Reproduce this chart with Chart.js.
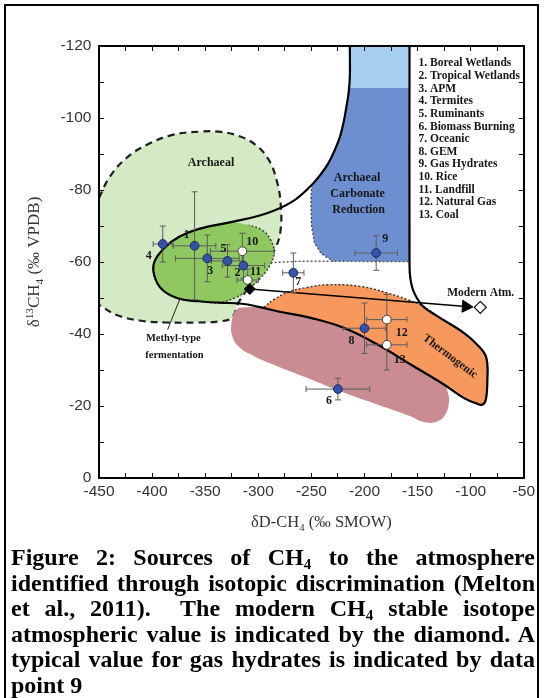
<!DOCTYPE html>
<html><head><meta charset="utf-8">
<script src="https://cdn.jsdelivr.net/npm/chart.js@4.4.0/dist/chart.umd.min.js"></script>
<style>
html,body{margin:0;padding:0;background:#fff;}
#wrap{position:relative;width:544px;height:698px;overflow:hidden;background:#fff;}
#frame{position:absolute;left:4px;top:4px;width:535px;height:760px;border:2px solid #000;box-sizing:border-box;pointer-events:none;}
#c{position:absolute;left:0;top:0;}
#cap{position:absolute;left:11px;top:545px;width:524px;font:bold 24px "Liberation Serif","Times New Roman",serif;color:#000;}
#cap .ln{height:25.6px;line-height:25.6px;text-align:justify;text-align-last:justify;}
#cap .last{text-align:left;text-align-last:left;}
#cap sub{font-size:15px;line-height:0;vertical-align:-4px;}
</style></head>
<body>
<div id="wrap">
<canvas id="c" width="544" height="545"></canvas>
<div id="cap">
<div class="ln">Figure 2: Sources of CH<sub>4</sub> to the atmosphere</div>
<div class="ln">identified through isotopic discrimination (Melton</div>
<div class="ln">et al., 2011).&nbsp; The modern CH<sub>4</sub> stable isotope</div>
<div class="ln">atmospheric value is indicated by the diamond. A</div>
<div class="ln">typical value for gas hydrates is indicated by data</div>
<div class="ln last">point 9</div>
</div>
<div id="frame"></div>
</div>
<script>
// ---------------- data ----------------
const sourceLabels = ['1. Boreal Wetlands','2. Tropical Wetlands','3. APM','4. Termites','5. Ruminants','6. Biomass Burning','7. Oceanic','8. GEM','9. Gas Hydrates','10. Rice','11. Landfill','12. Natural Gas','13. Coal'];
const sourceIds = ['1','2','3','4','5','6','7','8','9','10','11','12','13'];
const dD      = [-360, -314, -348, -390, -329, -225, -267, -200, -189, -315, -310, -179, -179];
const d13C    = [-64.5, -59, -61, -65, -60.3, -24.7, -57, -41.6, -62.5, -63, -55, -44, -37];
const dDErr   = [20, 20, 30, 9, 15, 30, 10, 20, 20, 30, 10, 19, 19];
const d13CErr = [15, 3.5, 6.5, 5, 4.5, 3, 5.5, 7, 4.8, 5, 3, 7, 7];
const openMarker = [false,false,false,false,false,false,false,false,false,true,true,true,true];
const sourceDiamond = [-308, -52.5];
const modernAtm = [-91, -47.4];
const arrowEnd = [-104.5, -47.65];

const xTicks = [-450,-400,-350,-300,-250,-200,-150,-100,-50];
const yTicks = [-120,-100,-80,-60,-40,-20,0];

// region outlines (dD, d13C)
const hydrateTop = [[-213.8,-120],[-157.6,-120],[-157.6,-108.3],[-213.8,-108.3]];
const carbonateArea = [[-213.8,-120],[-213.8,-111.5],[-214.9,-107.2],[-217,-103.2],[-219.6,-98.9],[-223.1,-94.8],[-228,-91.1],[-234.1,-87.4],[-241.6,-84.2],[-249.7,-81.4],[-250.5,-77.25],[-250,-70.3],[-247.2,-65.3],[-240.6,-62.26],[-229.4,-60.2],[-157.6,-60.1],[-157.6,-120]];
const archaealArea = [[-450,-77.8],[-440,-83.6],[-424.1,-88.9],[-405.4,-92.5],[-381,-95.3],[-355.8,-96.2],[-337,-96.2],[-318.3,-95],[-302.4,-92.5],[-290.2,-88.4],[-282.8,-82.8],[-279,-76.4],[-279,-68.9],[-283.7,-63.9],[-292.1,-60],[-318.3,-48.9],[-324.9,-44.5],[-337,-43.5],[-355.8,-43.2],[-386.6,-43.2],[-411.9,-43.75],[-433.4,-45.3],[-450,-48.1]];
const biomassArea = [[-318.3,-47.3],[-294.9,-47.4],[-280.9,-46.25],[-249.7,-44.4],[-218.5,-41.6],[-187.3,-37],[-156.1,-31.45],[-124.9,-25.9],[-121.8,-23.96],[-120.4,-21.2],[-124.6,-17.3],[-133.9,-15.5],[-145.2,-15.6],[-156.1,-17.1],[-187.3,-20.35],[-218.5,-23.6],[-249.7,-27.3],[-280.9,-30.9],[-304.3,-33.9],[-318.3,-36.45],[-324.9,-39.8],[-324.9,-43.9],[-322.1,-46.4]];
const thermoArea = [[-294.9,-47.4],[-285.6,-49.5],[-271.5,-51.7],[-252.8,-53],[-234.1,-53.7],[-203.2,-53.2],[-177.9,-51.35],[-159.2,-49.5],[-145.2,-47.8],[-131.1,-44.9],[-106.2,-40.25],[-92.8,-36.7],[-85.3,-33.4],[-84.3,-27.3],[-85.8,-21.7],[-89,-20.35],[-93.7,-20.6],[-106.2,-22.2],[-124.9,-25.9],[-156.1,-31.45],[-187.3,-37],[-218.5,-41.6],[-249.7,-44.4],[-280.9,-46.25]];
const methylArea = [[-324.6,-71.15],[-355.8,-69.2],[-374.5,-67],[-388.5,-63.9],[-397.9,-60],[-397.9,-56.2],[-390.4,-52.3],[-374.5,-49.8],[-355.8,-49.1],[-337,-48.7],[-320.2,-50.3],[-309,-52.5],[-298.7,-55.3],[-289.3,-58.9],[-285.1,-62.5],[-288.4,-66.15],[-296.5,-68.9],[-309,-70.3]];
const oceanicEdge = [[-288.4,-59.8],[-262.2,-60.2],[-229.4,-60.2],[-157.6,-60.1]];
const envelope = [[-213.8,-120],[-213.8,-111.5],[-214.9,-107.2],[-217,-103.2],[-219.6,-98.9],[-223.1,-94.8],[-228,-91.1],[-234.1,-87.4],[-241.6,-84.2],[-249.7,-81.4],[-268.4,-76.7],[-293.3,-73.4],[-324.6,-71.15],[-355.8,-69.2],[-374.5,-67],[-388.5,-63.9],[-397.9,-60],[-397.9,-56.2],[-390.4,-52.3],[-374.5,-49.8],[-355.8,-49.1],[-337,-48.7],[-315.5,-48.4],[-299.6,-47.55],[-280.9,-46.25],[-249.7,-44.4],[-218.5,-41.6],[-187.3,-37],[-156.1,-31.45],[-124.9,-25.9],[-106.2,-22.2],[-93.7,-20.6],[-89,-20.35],[-85.8,-21.7],[-84.3,-27.3],[-85.3,-33.4],[-92.8,-36.7],[-106.2,-40.25],[-131.1,-44.9],[-145.2,-47.8],[-153.6,-51.7],[-156.9,-55.6],[-157.6,-60],[-157.6,-120]];
const methylPointer = [[-385.4,-41.2],[-373.5,-50]];

// ---------------- styling / annotation config ----------------
const regionNotes = [
  {text:'Archaeal', dD:-344.5, d13C:-87.5, size:12},
  {text:'Archaeal', dD:-207, d13C:-83.3, size:12},
  {text:'Carbonate', dD:-206.5, d13C:-78.9, size:12},
  {text:'Reduction', dD:-205.5, d13C:-74.5, size:12},
  {text:'Methyl-type', dD:-380, d13C:-38.7, size:10.5},
  {text:'fermentation', dD:-379, d13C:-34.2, size:10.5},
  {text:'Thermogenic', dD:-119.4, d13C:-33.75, size:11.5, rot:37},
  {text:'Modern Atm.', dD:-90.6, d13C:-51.35, size:11.5}
];
const idOffsets = [[-8,-11],[-6,7],[3,13],[-14,11.5],[-4,-12],[-9,12],[5,9],[-13,13],[9,-14],[10,-9],[8,-8],[15,13],[13,15.5]];

const pts = arr => arr.map(p => ({x:p[0], y:p[1]}));
function shape(data, bg, extra){ return Object.assign({type:'line', data:pts(data), showLine:true, pointRadius:0, fill:'shape', backgroundColor:bg, borderWidth:0, borderColor:'rgba(0,0,0,0)', tension:0.4}, extra||{}); }

const datasets = [
  shape(hydrateTop, '#a8cfee', {order:100, tension:0}),
  shape(carbonateArea, '#6d8fd0', {order:99, tension:0}),
  shape(hydrateTop, '#a8cfee', {order:98, tension:0}),
  shape(archaealArea, '#d3eac5', {order:90, borderWidth:2.2, borderColor:'#1e1e1e', borderDash:[7,5]}),
  shape(biomassArea, '#c98c90', {order:85}),
  shape(thermoArea, '#f7995d', {order:80, borderWidth:1.4, borderColor:'#333', borderDash:[2,2]}),
  shape(methylArea, '#8ec85e', {order:75, borderWidth:1.4, borderColor:'#333', borderDash:[2,2]}),
  {type:'line', data:pts(oceanicEdge), showLine:true, pointRadius:0, fill:false, borderWidth:1.4, borderColor:'#555', borderDash:[2,2], tension:0, order:72},
  {type:'line', data:pts(carbonateArea.slice(9,15)), showLine:true, pointRadius:0, fill:false, borderWidth:1.2, borderColor:'#444', borderDash:[2,2], tension:0, order:71},
  {type:'line', data:pts(envelope), showLine:true, pointRadius:0, fill:false, borderWidth:2.2, borderColor:'#000', tension:0.4, order:60},
  {type:'line', data:pts(methylPointer), showLine:true, pointRadius:0, fill:false, borderWidth:1, borderColor:'#222', tension:0, order:55},
  {type:'line', data:pts([sourceDiamond, arrowEnd]), showLine:true, fill:false, borderWidth:1.6, borderColor:'#000', tension:0, order:50,
    pointRadius:[0,7], pointStyle:'triangle', pointRotation:94, pointBackgroundColor:'#000', pointBorderColor:'#000', pointBorderWidth:1},
  {type:'line', id:'sources', data:dD.map((v,i)=>({x:v, y:d13C[i]})), showLine:false, fill:false, order:10,
    pointRadius:4.4, pointBorderWidth:1, pointStyle:'circle',
    pointBackgroundColor:openMarker.map(o=>o?'#ffffff':'#3452a8'),
    pointBorderColor:openMarker.map(o=>o?'#3a3a3a':'#1c2c66')},
  {type:'line', data:pts([sourceDiamond]), showLine:false, fill:false, order:5, pointStyle:'rectRot', pointRadius:5.5, pointBackgroundColor:'#000', pointBorderColor:'#000', pointBorderWidth:1},
  {type:'line', data:pts([modernAtm]), showLine:false, fill:false, order:4, pointStyle:'rectRot', pointRadius:6, pointBackgroundColor:'#fff', pointBorderColor:'#111', pointBorderWidth:1.3}
];

const errorBars = {
  id:'errorBars',
  beforeDatasetDraw(chart, args){
    const ds = chart.data.datasets[args.index];
    if (ds.id !== 'sources') return;
    const {ctx, scales:{x, y}} = chart;
    ctx.save();
    ctx.strokeStyle = '#5c5c5c'; ctx.lineWidth = 1;
    const seg = (a,b,c,d)=>{ctx.beginPath();ctx.moveTo(a,b);ctx.lineTo(c,d);ctx.stroke();};
    const cap = 3;
    dD.forEach((v,i)=>{
      const px = x.getPixelForValue(v), py = y.getPixelForValue(d13C[i]);
      const x0 = x.getPixelForValue(v-dDErr[i]), x1 = x.getPixelForValue(v+dDErr[i]);
      const y0 = y.getPixelForValue(d13C[i]-d13CErr[i]), y1 = y.getPixelForValue(d13C[i]+d13CErr[i]);
      seg(x0,py,x1,py); seg(x0,py-cap,x0,py+cap); seg(x1,py-cap,x1,py+cap);
      seg(px,y0,px,y1); seg(px-cap,y0,px+cap,y0); seg(px-cap,y1,px+cap,y1);
    });
    ctx.restore();
  }
};

function drawRich(ctx, parts, cx, cy, size, rot){
  ctx.save(); ctx.translate(cx, cy); ctx.rotate(rot);
  ctx.fillStyle = '#333'; ctx.textBaseline = 'alphabetic'; ctx.textAlign = 'left';
  const f = k => (k ? size*0.66 : size) + 'px "Liberation Serif","DejaVu Serif",serif';
  let total = 0; const ws = [];
  parts.forEach(([t,k])=>{ ctx.font = f(k); const w = ctx.measureText(t).width; ws.push(w); total += w; });
  let xx = -total/2; const base = size*0.33;
  parts.forEach(([t,k],i)=>{ ctx.font = f(k); const dy = k===1 ? -size*0.38 : (k===-1 ? size*0.22 : 0); ctx.fillText(t, xx, base+dy); xx += ws[i]; });
  ctx.restore();
}

const texts = {
  id:'texts',
  afterDraw(chart){
    const {ctx, chartArea:a, scales:{x, y}} = chart;
    ctx.save();
    ctx.fillStyle = '#161616'; ctx.textAlign = 'center'; ctx.textBaseline = 'middle';
    regionNotes.forEach(n=>{
      ctx.save(); ctx.font = 'bold ' + n.size + 'px "Liberation Serif",serif';
      ctx.translate(x.getPixelForValue(n.dD), y.getPixelForValue(n.d13C));
      if (n.rot) ctx.rotate(n.rot*Math.PI/180);
      ctx.fillText(n.text, 0, 0); ctx.restore();
    });
    ctx.font = 'bold 12px "Liberation Serif",serif';
    sourceIds.forEach((id,i)=>{
      ctx.fillText(id, x.getPixelForValue(dD[i]) + idOffsets[i][0], y.getPixelForValue(d13C[i]) + idOffsets[i][1]);
    });
    ctx.textAlign = 'left'; ctx.font = 'bold 11.5px "Liberation Serif",serif';
    sourceLabels.forEach((t,i)=> ctx.fillText(t, a.right - 105.3, a.top + 17.3 + i*12.65));
    ctx.restore();
    drawRich(ctx, [['δ',0],['13',1],['CH',0],['4',-1],[' (‰ VPDB)',0]], 33.5, (a.top+a.bottom)/2, 17, -Math.PI/2);
    drawRich(ctx, [['δD-CH',0],['4',-1],[' (‰ SMOW)',0]], (a.left+a.right)/2 + 10, a.bottom + 43.5, 16.5, 0);
  }
};

const H = 545;
const tickFont = {family:'"Liberation Sans", Arial, sans-serif', size:15.5};
const gridCommon = {drawOnChartArea:false, drawTicks:true, tickLength:-5, tickColor:'#111', tickWidth:1, z:1};
const borderCommon = {display:true, color:'#000', width:2, z:1};

new Chart(document.getElementById('c'), {
  type:'line',
  data:{datasets},
  options:{
    responsive:false, animation:false, devicePixelRatio:1, events:[],
    layout:{padding:0},
    plugins:{legend:{display:false}, tooltip:{enabled:false}},
    scales:{
      x:{type:'linear', position:'bottom', min:-450, max:-50,
         grid:gridCommon, border:borderCommon,
         ticks:{stepSize:25, autoSkip:false, maxRotation:0, padding:9, font:tickFont, color:'#333',
                callback:v=> xTicks.includes(v) ? String(v) : ''},
         afterFit:s=>{s.height = H - 478;}},
      x2:{type:'linear', position:'top', min:-450, max:-50,
         grid:gridCommon, border:borderCommon,
         ticks:{stepSize:25, autoSkip:false, maxRotation:0, callback:()=>''},
         afterFit:s=>{s.height = 46;}},
      y:{type:'linear', position:'left', min:-120, max:0, reverse:true,
         grid:gridCommon, border:borderCommon,
         ticks:{stepSize:10, autoSkip:false, padding:12.6, font:tickFont, color:'#333',
                callback:v=> yTicks.includes(v) ? String(v) : ''},
         afterFit:s=>{s.width = 99;}},
      y2:{type:'linear', position:'right', min:-120, max:0, reverse:true,
         grid:gridCommon, border:borderCommon,
         ticks:{stepSize:10, autoSkip:false, callback:()=>''},
         afterFit:s=>{s.width = 544 - 527;}}
    }
  },
  plugins:[errorBars, texts]
});
</script>
</body></html>
